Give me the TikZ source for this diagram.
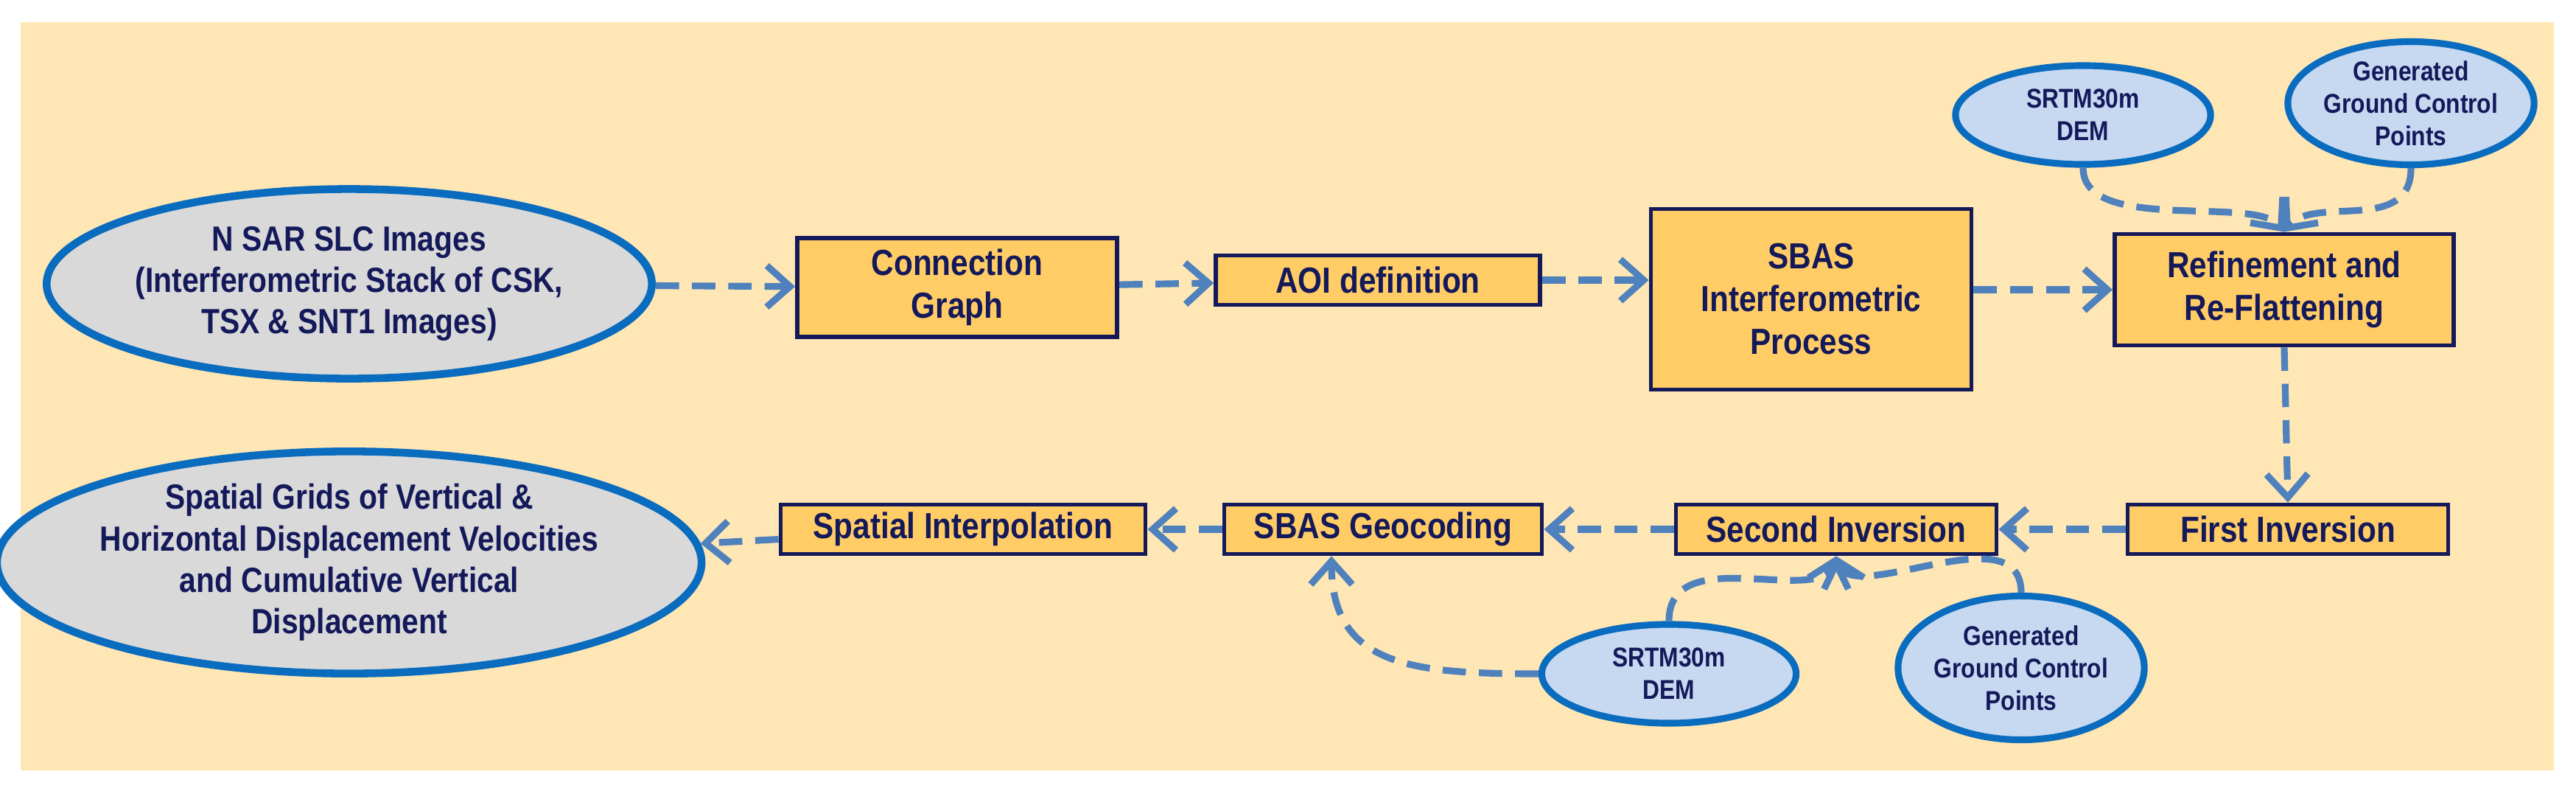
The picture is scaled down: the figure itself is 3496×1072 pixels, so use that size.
\documentclass[tikz,border=0pt]{standalone}
\usepackage{fontspec}
\setmainfont{Liberation Sans}[FakeStretch=0.86]
\usetikzlibrary{shapes.geometric,arrows.meta}
\definecolor{bg}{HTML}{FFE6B5}
\definecolor{boxf}{HTML}{FFCC66}
\definecolor{navy}{HTML}{14195A}
\definecolor{eblue}{HTML}{0A6CBE}
\definecolor{lblue}{HTML}{C6D9F1}
\definecolor{egray}{HTML}{D9D9D9}
\definecolor{arr}{HTML}{4F81BD}
\begin{document}
\begin{tikzpicture}[x=0.01cm,y=-0.01cm,
  txt/.style={font=\bfseries\fontsize{14}{16.5}\selectfont,text=navy,align=center},
  box/.style={txt,draw=navy,line width=1.6pt,fill=boxf,inner sep=2pt},
  bell/.style={ellipse,draw=eblue,line width=3pt,fill=egray,inner sep=0pt,txt,font=\bfseries\fontsize{13.5}{16}\selectfont},
  sell/.style={ellipse,draw=eblue,line width=2.6pt,fill=lblue,inner sep=0pt,txt,font=\bfseries\fontsize{10.5}{12.5}\selectfont},
  con/.style={draw=arr,line width=2.6pt,dash pattern=on 9pt off 5pt,-{Straight Barb[length=9pt,width=16pt,line width=2.6pt]}}]
\useasboundingbox (0,0) rectangle (3496,1072);
\fill[bg] (28,30) rectangle (3466,1045);
\node[bell,minimum width=8.14cm,minimum height=2.57cm] (nsar) at (474,385) {N SAR SLC Images\\(Interferometric Stack of CSK,\\TSX \& SNT1 Images)};
\node[box,minimum width=4.34cm,minimum height=1.34cm] (cg) at (1299,390) {Connection\\Graph};
\node[box,minimum width=4.40cm,minimum height=0.67cm] (aoi) at (1870,380) {AOI definition};
\node[box,minimum width=4.35cm,minimum height=2.45cm] (sbas) at (2458,406) {SBAS\\Interferometric\\Process};
\node[box,minimum width=4.60cm,minimum height=1.51cm] (ref) at (3100,393) {Refinement and\\Re-Flattening};
\node[sell,minimum width=3.46cm,minimum height=1.34cm] (dem1) at (2827,156) {SRTM30m\\DEM};
\node[sell,minimum width=2.79cm,minimum height=1.67cm] (gcp1) at (3272,140) {Generated\\Ground Control\\Points};
\node[box,minimum width=4.35cm,minimum height=0.67cm] (fi) at (3105,718) {First Inversion};
\node[box,minimum width=4.35cm,minimum height=0.67cm] (si) at (2492,718) {Second Inversion};
\node[box,minimum width=4.31cm,minimum height=0.67cm] (geo) at (1877,718) {SBAS Geocoding};
\node[box,minimum width=4.95cm,minimum height=0.67cm] (interp) at (1307,718) {Spatial Interpolation};
\node[bell,minimum width=8.14cm,minimum height=3.01cm] (grid) at (474,763) {Spatial Grids of Vertical \&\\Horizontal Displacement Velocities\\and Cumulative Vertical\\Displacement};
\node[sell,minimum width=3.45cm,minimum height=1.34cm] (dem2) at (2265,914) {SRTM30m\\DEM};
\node[sell,minimum width=3.12cm,minimum height=1.95cm] (gcp2) at (2743,906) {Generated\\Ground Control\\Points};
\coordinate (geoin) at ([xshift=-0.7cm]geo.south);
\draw[con] (nsar) -- (cg);
\draw[con] (cg) -- (aoi);
\draw[con] (aoi.east) -- (sbas.west |- aoi.east);
\draw[con] (sbas.east |- ref.west) -- (ref.west);
\draw[con] (dem1.south) .. controls +(0,90) and +(-40,-50) .. (ref.north);
\draw[con] (gcp1.south) .. controls +(0,90) and +(40,-50) .. (ref.north);
\draw[con] (ref.south) -- (fi.north);
\draw[con] (fi) -- (si);
\draw[con] (si) -- (geo);
\draw[con] (geo) -- (interp);
\draw[con] (interp) -- (grid);
\draw[con] (dem2.north) .. controls +(0,-110) and +(-20,70) .. (si.south);
\draw[con] (gcp2.north) .. controls +(0,-110) and +(20,70) .. (si.south);
\draw[con] (dem2.west) .. controls +(-170,0) and +(0,150) .. (geoin);
\end{tikzpicture}
\end{document}
